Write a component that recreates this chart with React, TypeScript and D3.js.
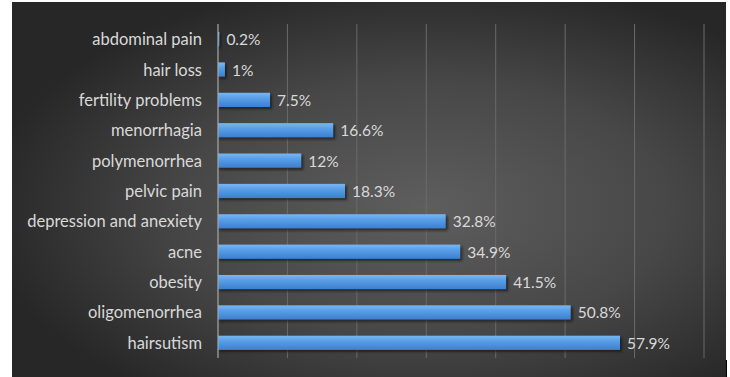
import React from "react";
import * as d3 from "d3";

const categories = [
  "abdominal pain",
  "hair loss",
  "fertility problems",
  "menorrhagia",
  "polymenorrhea",
  "pelvic pain",
  "depression and anexiety",
  "acne",
  "obesity",
  "oligomenorrhea",
  "hairsutism",
];
const values = [0.2, 1, 7.5, 16.6, 12, 18.3, 32.8, 34.9, 41.5, 50.8, 57.9];
const valueLabels = ["0.2%", "1%", "7.5%", "16.6%", "12%", "18.3%", "32.8%", "34.9%", "41.5%", "50.8%", "57.9%"];
const gridTicks = [10, 20, 30, 40, 50, 60, 70];

const W = 730;
const H = 377;
const bg = { x0: 12, y0: 2, x1: 726, y1: 377 };
const plot = { left: 218, right: 704, top: 24, bottom: 358 };
const FONT = "Lato, 'Open Sans', sans-serif";

export default function App() {
  const x = d3.scaleLinear().domain([0, 70]).range([plot.left, plot.right]);
  const y = d3
    .scaleBand<string>()
    .domain(categories)
    .range([plot.top, plot.bottom])
    .paddingInner(0.53)
    .paddingOuter(0.265);
  const bw = y.bandwidth();

  return (
    <div style={{ position: "fixed", left: 0, top: 0, width: W, height: H, background: "#fff" }}>
      <svg width={W} height={H} style={{ display: "block" }}>
        <defs>
          <radialGradient id="bgGrad" cx="0.58" cy="0.55" r="0.62">
            <stop offset="0" stopColor="#5e5e5e" />
            <stop offset="0.55" stopColor="#474747" />
            <stop offset="1" stopColor="#272727" />
          </radialGradient>
          <linearGradient id="barGrad" x1="0" y1="0" x2="0" y2="1">
            <stop offset="0" stopColor="#79b7f2" />
            <stop offset="0.35" stopColor="#5aa0e8" />
            <stop offset="1" stopColor="#3c7fcf" />
          </linearGradient>
          <filter id="shadow" x="-5%" y="-50%" width="110%" height="200%">
            <feGaussianBlur stdDeviation="1.2" />
          </filter>
        </defs>
        <rect x={bg.x0} y={bg.y0} width={bg.x1 - bg.x0} height={bg.y1 - bg.y0} fill="url(#bgGrad)" />
        {gridTicks.map((t) => (
          <line
            key={t}
            x1={x(t)}
            x2={x(t)}
            y1={plot.top}
            y2={plot.bottom}
            stroke="#6a6a6a"
            strokeWidth={1}
          />
        ))}
        {categories.map((c, i) => {
          const yy = y(c)!;
          const w = x(values[i]) - x(0);
          return (
            <g key={c}>
              <rect x={x(0) + 1} y={yy + 2} width={w + 1} height={bw} fill="#151515" opacity={0.7} filter="url(#shadow)" />
              <rect x={x(0)} y={yy} width={w} height={bw} fill="url(#barGrad)" />
              <text
                x={plot.left - 16}
                y={yy + bw / 2}
                textAnchor="end"
                dominantBaseline="central"
                fill="#d9d9d9"
                fontFamily={FONT}
                fontSize={16.5}
              >
                {c}
              </text>
              <text
                x={x(values[i]) + 7}
                y={yy + bw / 2}
                dominantBaseline="central"
                fill="#d9d9d9"
                fontFamily={FONT}
                fontSize={15.5}
              >
                {valueLabels[i]}
              </text>
            </g>
          );
        })}
        <line x1={x(0)} x2={x(0)} y1={plot.top} y2={plot.bottom} stroke="#a8a8a8" strokeWidth={1.2} />
        <line x1={726.5} x2={726.5} y1={360} y2={377} stroke="#000" strokeWidth={1} />
      </svg>
    </div>
  );
}
